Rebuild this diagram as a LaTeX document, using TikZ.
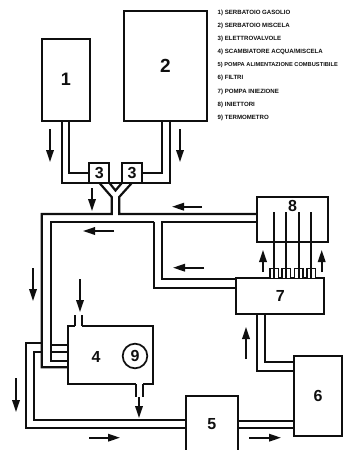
\documentclass[tikz,border=0pt]{standalone}
\usepackage{fontspec}
\setmainfont{Liberation Sans}
\usetikzlibrary{arrows.meta,positioning,calc}
\definecolor{SchemaInk}{RGB}{15,15,15}
\tikzset{
  schema/box/.style={
    draw=SchemaInk,
    line width=2.2pt,
    fill=white,
    align=center,
    text=SchemaInk,
    inner sep=0pt,
    outer sep=0pt,
    font=\bfseries\fontsize{16}{16}\selectfont
  },
  schema/pipe/.style={draw=SchemaInk, line width=2.2pt, line join=miter},
  schema/gap/.style={draw=white, line width=3.2pt},
  schema/flow/.style={-{Triangle[length=12pt,width=7.5pt]}, line width=1.8pt, draw=SchemaInk},
  schema/fin/.style={draw=SchemaInk, line width=1.4pt, fill=white, inner sep=0pt, outer sep=0pt, minimum width=8.4pt, minimum height=10pt},
  schema/num/.style={font=\bfseries\fontsize{16}{16}\selectfont, text=SchemaInk, inner sep=0pt},
  schema/legend/.style={font=\bfseries\fontsize{6.1}{7}\selectfont, text=SchemaInk, anchor=west, inner sep=0pt}
}
\begin{document}
\begin{tikzpicture}[x=1pt,y=-1pt]
  \clip (0,0) rectangle (343,450);
  % tanks and valves
  \node[schema/box,minimum width=48.3pt,minimum height=81.7pt,font=\bfseries\fontsize{18}{18}\selectfont] (tankA) at (65.8,79.8) {1};
  \node[schema/box,minimum width=83pt,minimum height=110pt,font=\bfseries\fontsize{19}{19}\selectfont] (tankB) at (165.5,65.6) {2};
  \node[schema/box,minimum width=20pt,minimum height=20pt] (valveA) at (99.3,172.8) {3};
  \node[schema/box,minimum width=20pt,minimum height=20pt] (valveB) at (132,172.8) {3};
  \node[schema/box,minimum width=71pt,minimum height=45pt] (injectors) at (292.8,219.2) {};
  \node[schema/num] (labInj) at (292.5,206) {8};
  \node[schema/box,minimum width=88pt,minimum height=35.4pt] (pump) at (280.3,296) {7};
  \node[schema/box,minimum width=47.4pt,minimum height=80pt] (filter) at (318,395.7) {6};
  \node[schema/box,minimum width=52pt,minimum height=56pt] (feed) at (211.7,424) {5};
  \node[schema/box,minimum width=84.7pt,minimum height=58pt] (exchanger) at (110.3,355) {};
  \node[schema/num] (labExc) at (96,356.5) {4};
  \node[circle,draw=SchemaInk,line width=1.7pt,minimum size=24.6pt,inner sep=0pt,font=\bfseries\fontsize{16}{16}\selectfont,text=SchemaInk] (thermo) at (135,356) {9};

  % points where the pipes turn or stop
  \coordinate (wyeL) at (111.7,197);
  \coordinate (wyeR) at (119.2,197);
  \coordinate (wyeM) at (115.5,190.5);
  \coordinate (retA) at (111.7,214);
  \coordinate (retB) at (119.2,214);
  \coordinate (mainA) at (41.7,214);
  \coordinate (mainB) at (51,221.7);
  \coordinate (midA) at (153.7,221.7);
  \coordinate (midB) at (161.7,221.7);
  \coordinate (excA) at (68,367.3);
  \coordinate (excB) at (68,360.7);
  \coordinate (excC) at (68,352.3);
  \coordinate (excD) at (68,345);
  \coordinate (teeC) at (51,352.3);
  \coordinate (teeD) at (51,345);
  \coordinate (pumpA) at (236.3,287.7);
  \coordinate (pumpB) at (236.3,278.8);
  \coordinate (loopA) at (25.7,343.3);
  \coordinate (loopB) at (34.3,352.3);
  \coordinate (joinA) at (41.7,343.3);
  \coordinate (joinB) at (41.7,352.3);
  \coordinate (feedA) at (185.7,428.3);
  \coordinate (feedB) at (185.7,419.8);
  \coordinate (outA) at (237.7,420.7);
  \coordinate (outB) at (237.7,428.3);
  \coordinate (filtA) at (294.3,420.7);
  \coordinate (filtB) at (294.3,428.3);
  \coordinate (riseA) at (257.3,313.7);
  \coordinate (riseB) at (265.3,313.7);
  \coordinate (filtC) at (294.3,370.7);
  \coordinate (filtD) at (294.3,361.7);
  \coordinate (topA) at (75,326);
  \coordinate (topB) at (82.3,326);
  \coordinate (topC) at (75,315);
  \coordinate (topD) at (82.3,315);
  \coordinate (botA) at (136,384);
  \coordinate (botB) at (143.3,384);
  \coordinate (botC) at (136,396.7);
  \coordinate (botD) at (143.3,396.7);

  % tanks to valves
  \draw[schema/pipe] ([xshift=-3.7]tankA.south) |- (valveA.south west) -- (valveB.south east) -| ([xshift=4.5]tankB.south);
  \draw[schema/pipe] ([xshift=3.5]tankA.south) |- (valveA.west);
  \draw[schema/pipe] ([xshift=-3.5]tankB.south) |- (valveB.east);

  % the Y under the valves and the long runs
  \draw[schema/pipe] (valveA.south) -- (wyeL) -- (retA) -- (mainA) -- (mainA |- excA) -- (excA);
  \draw[schema/pipe] (valveB.south) -- (wyeR) -- (retB) -- (retB -| injectors.west);
  \draw[schema/pipe] (valveA.south east) -- (wyeM) -- (valveB.south west);
  \draw[schema/pipe] (midA) -- (mainB) -- (mainB |- excB) -- (excB);
  \draw[schema/pipe] (midA) |- (pumpA);
  \draw[schema/pipe] (midB -| injectors.west) -- (midB) |- (pumpB);

  % around the exchanger
  \draw[schema/pipe] (teeC) -- (excC);
  \draw[schema/pipe] (teeD) -- (excD);
  \draw[schema/pipe] (joinA) -- (loopA) |- (feedA);
  \draw[schema/pipe] (joinB) -- (loopB) |- (feedB);
  \draw[schema/gap] (topA) -- (topB);
  \draw[schema/gap] (botA) -- (botB);
  \draw[schema/pipe] (topA) -- (topC);
  \draw[schema/pipe] (topB) -- (topD);
  \draw[schema/pipe] (botA) -- (botC);
  \draw[schema/pipe] (botB) -- (botD);

  % feed pump, filters and injection pump
  \draw[schema/pipe] (outA) -- (filtA);
  \draw[schema/pipe] (outB) -- (filtB);
  \draw[schema/pipe] (riseA) |- (filtC);
  \draw[schema/pipe] (riseB) |- (filtD);

  % injector lines
  \foreach \i/\x in {1/274,2/286.3,3/298.7,4/311} {
    \node[schema/fin] (fin\i) at (\x,273.3) {};
    \coordinate (tip\i) at (\x,212.3);
    \draw[schema/pipe] (fin\i.south) -- (tip\i);
  }

  % flow direction
  \foreach \i/\xa/\ya/\xb/\yb in {1/50/129/50/162,2/180/129/180/162,3/92/188/92/211,
      4/202/206.7/172/206.7,5/114/231/83/231,6/204/267.7/173/267.7,7/33/268/33/301,
      8/80/279/80/312,9/246/359/246/327,10/16/378/16/412,11/89/437.7/120/437.7,
      12/249/437.7/281/437.7,13/139/397/139/418,14/263/272/263/250,15/321.7/272/321.7/250} {
    \coordinate (flowS\i) at (\xa,\ya);
    \coordinate (flowE\i) at (\xb,\yb);
    \draw[schema/flow] (flowS\i) -- (flowE\i);
  }

  % key
  \node[schema/legend] (key1) at (217.5,12.5) {1) SERBATOIO GASOLIO};
  \node[schema/legend] (key2) at (217.5,25.5) {2) SERBATOIO MISCELA};
  \node[schema/legend] (key3) at (217.5,38.5) {3) ELETTROVALVOLE};
  \node[schema/legend] (key4) at (217.5,52) {4) SCAMBIATORE ACQUA/MISCELA};
  \node[schema/legend,font=\bfseries\fontsize{5.7}{7}\selectfont] (key5) at (217.5,65) {5) POMPA ALIMENTAZIONE COMBUSTIBILE};
  \node[schema/legend] (key6) at (217.5,78) {6) FILTRI};
  \node[schema/legend] (key7) at (217.5,91.5) {7) POMPA INIEZIONE};
  \node[schema/legend] (key8) at (217.5,104.5) {8) INIETTORI};
  \node[schema/legend] (key9) at (217.5,118) {9) TERMOMETRO};
\end{tikzpicture}
\end{document}
